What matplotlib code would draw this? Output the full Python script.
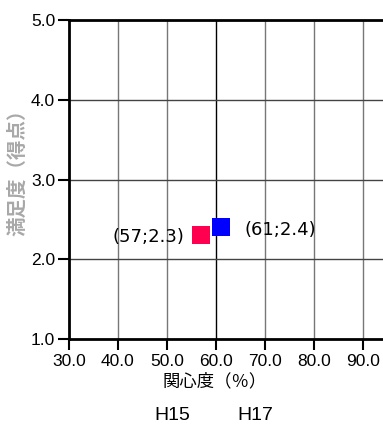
import matplotlib
matplotlib.use("Agg")
import matplotlib.pyplot as plt

# Data
series_names = ["H15", "H17"]
interest = [57, 61]        # 関心度 (%)
satisfaction = [2.3, 2.4]  # 満足度 (得点)
colors = ["#FF0050", "#0000FF"]
labels = ["(57;2.3)", "(61;2.4)"]
xticks = [30, 40, 50, 60, 70, 80, 90]
yticks = [1, 2, 3, 4, 5]

W, H = 383, 425
fig = plt.figure(figsize=(W / 100, H / 100), dpi=100)
ax = fig.add_axes([69 / W, 1 - 339 / H, (W - 69) / W, (339 - 20) / H])

ax.set_xlim(30, 30 + (W - 69) / 4.9)
ax.set_ylim(1, 5)

LAT = ["Liberation Sans", "DejaVu Sans"]
ax.set_xticks(xticks)
ax.set_yticks(yticks)
ax.set_xticklabels([f"{v:.1f}" for v in xticks], fontfamily=LAT, fontsize=12.5)
ax.set_yticklabels([f"{v:.1f}" for v in yticks], fontfamily=LAT, fontsize=12.5)
ax.tick_params(axis="both", direction="out", length=8, width=1.5, colors="black", pad=2)
ax.tick_params(axis="x", pad=3)

for v in xticks[1:]:
    ax.axvline(v, color="#000000" if v == 60 else "#777777", lw=1, zorder=1)
for v in yticks[1:-1]:
    ax.axhline(v, color="#444444", lw=1, zorder=1)

for s in ["left", "bottom", "top"]:
    ax.spines[s].set_linewidth(2)
    ax.spines[s].set_color("black")
ax.spines["right"].set_visible(False)

for x, y, c in zip(interest, satisfaction, colors):
    ax.plot([x], [y], marker="s", ms=13, mew=0, color=c, ls="none", zorder=3)

ax.annotate(labels[0], (interest[0], satisfaction[0]), xytext=(-17, -2),
            textcoords="offset pixels", ha="right", va="center", fontsize=13,
            fontfamily="DejaVu Sans")
ax.annotate(labels[1], (interest[1], satisfaction[1]), xytext=(24, -3),
            textcoords="offset pixels", ha="left", va="center", fontsize=13,
            fontfamily="DejaVu Sans")

fig.text(215 / W, 1 - 381 / H, "関心度（％）", ha="center", va="center",
         fontsize=12.5, fontfamily=["Noto Sans CJK JP", "DejaVu Sans"])
fig.text(18 / W, 1 - 168 / H, "満足度（得点）", ha="center", va="center", rotation=90,
         fontsize=14, fontweight="bold", color="#a8a8a8",
         fontfamily=["Noto Sans CJK JP", "DejaVu Sans"])

fig.text(172 / W, 1 - 416 / H, series_names[0], ha="center", va="center", fontsize=14,
         fontfamily=LAT)
fig.text(255 / W, 1 - 416 / H, series_names[1], ha="center", va="center", fontsize=14,
         fontfamily=LAT)

fig.savefig("out.png", dpi=100)
